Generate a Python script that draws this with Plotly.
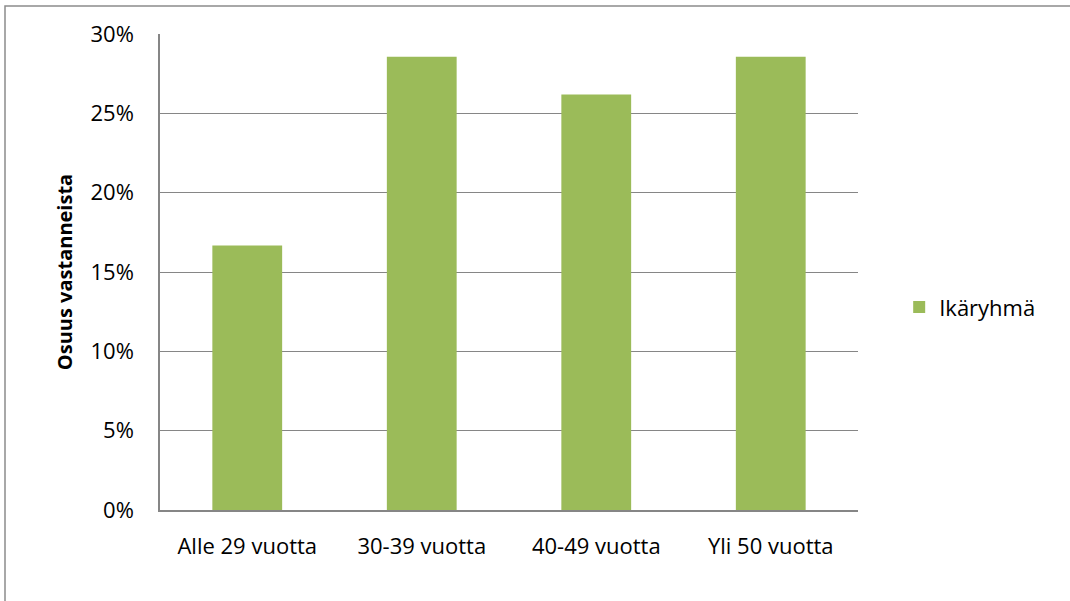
import plotly.graph_objects as go

categories = ["Alle 29 vuotta", "30-39 vuotta", "40-49 vuotta", "Yli 50 vuotta"]
values = [0.1667, 0.2857, 0.2619, 0.2857]
series_name = "Ikäryhmä"
y_ticks = [0, 0.05, 0.10, 0.15, 0.20, 0.25, 0.30]
y_labels = ["0%", "5%", "10%", "15%", "20%", "25%", "30%"]

FONT = "Open Sans"
GRID = "#868686"

fig = go.Figure()
fig.add_trace(go.Bar(x=categories, y=values, name=series_name,
                     marker=dict(color="#9BBB59", line=dict(width=0))))

fig.update_layout(
    width=1070, height=601,
    margin=dict(l=160, r=212, t=34, b=91),
    paper_bgcolor="white", plot_bgcolor="white",
    font=dict(family=FONT, size=22, color="#000000"),
    bargap=0.6,
    showlegend=True,
    legend=dict(x=1.059, y=0.426, xanchor="left", yanchor="middle",
                font=dict(family=FONT, size=22, color="#000000")),
    xaxis=dict(showline=True, linecolor=GRID, linewidth=1.5, showgrid=False,
               ticks="", ticklabelstandoff=16,
               tickfont=dict(family=FONT, size=22)),
    yaxis=dict(range=[0, 0.30], tickvals=y_ticks, ticktext=y_labels,
               showline=True, linecolor=GRID, linewidth=1.5,
               showgrid=True, gridcolor=GRID, gridwidth=1.2,
               zeroline=False, ticks="", ticklabelstandoff=20,
               tickfont=dict(family=FONT, size=22),
               title=dict(text="<b>Osuus vastanneista</b>", standoff=12,
                          font=dict(family=FONT, size=20))),
    shapes=[dict(type="rect", xref="paper", yref="paper",
                 x0=-155/698, x1=1.4, y0=-0.3, y1=1 + 28/476,
                 line=dict(color="#8C8C8C", width=1.5), fillcolor="rgba(0,0,0,0)",
                 layer="below")],
)

fig.write_html("out.html", config={"displayModeBar": False},
               post_script="document.body.style.margin='0';document.body.style.overflow='hidden';")
